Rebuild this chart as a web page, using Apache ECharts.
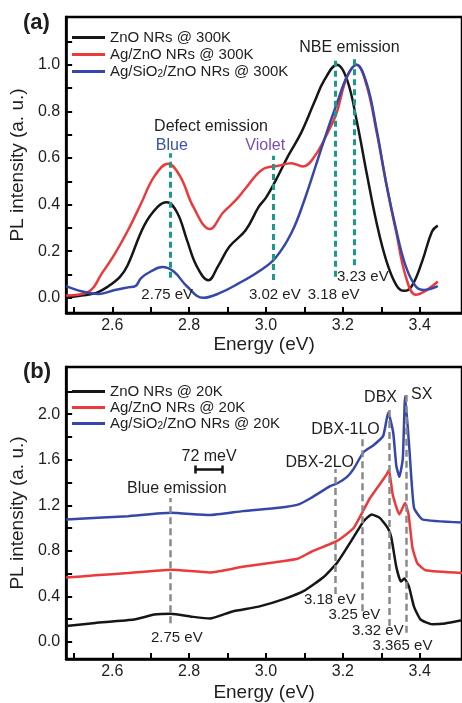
<!DOCTYPE html>
<html><head><meta charset="utf-8">
<script src="https://cdn.jsdelivr.net/npm/echarts@6/dist/echarts.min.js"></script>
<style>html,body{margin:0;padding:0;background:#fff}#c{width:462px;height:703px}</style>
</head><body><div id="c"></div>
<script>
// ---------- Panel (a): 300 K ----------
const topNames = ['ZnO NRs @ 300K', 'Ag/ZnO NRs @ 300K', 'Ag/SiO2/ZnO NRs @ 300K'];
const topBlackE = [2.48,2.52,2.556,2.59,2.62,2.64,2.683,2.718,2.742,2.769,2.794,2.82,2.85,2.875,2.905,2.947,2.981,3.0,3.024,3.058,3.092,3.126,3.152,3.185,3.211,3.236,3.262,3.288,3.313,3.339,3.36,3.381,3.407,3.432,3.447];
const topBlackI = [0.0,0.01,0.02,0.05,0.09,0.14,0.31,0.39,0.41,0.365,0.25,0.135,0.075,0.135,0.22,0.29,0.39,0.43,0.5,0.61,0.71,0.84,0.935,1.0,0.935,0.76,0.535,0.32,0.16,0.055,0.03,0.055,0.16,0.285,0.31];
const topRedE = [2.48,2.539,2.573,2.607,2.641,2.675,2.709,2.745,2.777,2.811,2.854,2.888,2.922,2.947,2.99,3.032,3.066,3.096,3.126,3.16,3.183,3.211,3.236,3.262,3.288,3.313,3.339,3.364,3.39,3.419,3.447];
const topRedI = [0.01,0.027,0.105,0.19,0.29,0.405,0.52,0.575,0.52,0.39,0.295,0.365,0.42,0.47,0.55,0.567,0.578,0.564,0.606,0.707,0.79,0.95,1.0,0.91,0.71,0.49,0.28,0.09,0.013,0.034,0.07];
const topBlueE = [2.48,2.522,2.565,2.607,2.641,2.66,2.675,2.7,2.73,2.76,2.794,2.837,2.879,2.93,2.981,3.024,3.066,3.1,3.134,3.16,3.185,3.211,3.235,3.262,3.288,3.313,3.339,3.364,3.39,3.411,3.447];
const topBlueI = [0.05,0.027,0.017,0.034,0.045,0.05,0.085,0.113,0.132,0.113,0.05,0.0,0.02,0.063,0.113,0.17,0.278,0.42,0.59,0.72,0.836,0.95,1.0,0.92,0.72,0.49,0.29,0.134,0.049,0.034,0.05];
const topMarkE = [2.75, 3.02, 3.18, 3.23];
const topMarkLow = [0.086, 0.077, 0.09, 0.14];
const topMarkHigh = [0.62, 0.61, 1.034, 1.034];
const topNoteE = [3.217, 2.857, 2.755, 2.998, 2.743, 3.023, 3.176, 3.252];
const topNoteI = [1.074, 0.734, 0.652, 0.652, 0.013, 0.013, 0.013, 0.09];
const topNoteText = ['NBE emission', 'Defect emission', 'Blue', 'Violet', '2.75 eV', '3.02 eV', '3.18 eV', '3.23 eV'];
const topYTicks = [0,0.1,0.2,0.3,0.4,0.5,0.6,0.7,0.8,0.9,1.0,1.1];
const topYLabels = [0,0.2,0.4,0.6,0.8,1.0];

// ---------- Panel (b): 20 K ----------
const botNames = ['ZnO NRs @ 20K', 'Ag/ZnO NRs @ 20K', 'Ag/SiO2/ZnO NRs @ 20K'];
const botBlackE = [2.48,2.556,2.657,2.709,2.752,2.811,2.854,2.913,2.981,3.05,3.1,3.15,3.186,3.228,3.254,3.275,3.296,3.317,3.326,3.339,3.351,3.36,3.372,3.385,3.402,3.432,3.466,3.51];
const botBlackI = [0.14,0.167,0.197,0.24,0.248,0.22,0.205,0.268,0.31,0.38,0.45,0.57,0.70,0.92,1.06,1.12,1.09,1.0,0.92,0.66,0.53,0.557,0.485,0.31,0.197,0.156,0.162,0.19];
const botRedE = [2.48,2.556,2.641,2.752,2.854,2.939,3.024,3.082,3.117,3.186,3.228,3.27,3.313,3.32,3.33,3.347,3.362,3.371,3.381,3.394,3.415,3.51];
const botRedI = [0.565,0.585,0.606,0.635,0.61,0.66,0.70,0.73,0.79,0.89,1.0,1.26,1.466,1.51,1.29,1.12,1.22,1.12,0.83,0.69,0.63,0.606];
const botBlueE = [2.48,2.641,2.752,2.854,2.939,3.033,3.083,3.117,3.168,3.186,3.211,3.228,3.254,3.279,3.305,3.318,3.331,3.339,3.347,3.356,3.362,3.373,3.385,3.407,3.51];
const botBlueI = [1.076,1.105,1.134,1.114,1.149,1.178,1.206,1.264,1.37,1.394,1.45,1.52,1.668,1.726,1.81,2.015,1.84,1.55,1.45,1.61,2.16,1.70,1.18,1.076,1.048];
const botMarkE = [2.75, 3.18, 3.25, 3.32, 3.365];
const botMarkLow = [0.165, 0.42, 0.27, 0.14, 0.08];
const botMarkHigh = [1.264, 1.52, 1.82, 2.07, 2.17];
const scaleBarE = [2.815, 2.887];
const scaleBarI = 1.515;
const scaleCap = 0.035;
const botNoteE = [3.298, 3.405, 3.207, 3.14, 2.852, 2.768, 2.768, 3.166, 3.23, 3.291, 3.355];
const botNoteI = [2.149, 2.175, 1.863, 1.577, 1.629, 1.343, 0.035, 0.373, 0.234, 0.095, -0.035];
const botNoteText = ['DBX', 'SX', 'DBX-1LO', 'DBX-2LO', '72 meV', 'Blue emission', '2.75 eV', '3.18 eV', '3.25 eV', '3.32 eV', '3.365 eV'];
const botYTicks = [0,0.2,0.4,0.6,0.8,1.0,1.2,1.4,1.6,1.8,2.0,2.2];
const botYLabels = [0,0.4,0.8,1.2,1.6,2.0];

const xTicks = [2.5,2.6,2.7,2.8,2.9,3.0,3.1,3.2,3.3,3.4];
const xLabels = [2.6,2.8,3.0,3.2,3.4];

const FONT = '"Liberation Sans", Arial, sans-serif';
const TXT = '#1e1e1e';
const colors = ['#161616', '#ec3a3c', '#3547a8'];
const TEAL = '#1a9a8c';
const GRAY = '#8a8a8a';

const zip = (a, b) => a.map((x, i) => [x, b[i]]);

function xAxisFor(i, gap) {
  return {
    gridIndex: i, type: 'value', min: 2.48, max: 3.51,
    name: 'Energy (eV)', nameLocation: 'middle', nameGap: gap,
    nameTextStyle: { fontSize: 19, color: TXT, fontFamily: FONT },
    axisLine: { show: true, onZero: false, lineStyle: { color: '#000', width: 2.5 } },
    axisTick: { show: true, inside: true, length: 6, customValues: xTicks, lineStyle: { color: '#000', width: 2 } },
    axisLabel: { customValues: xLabels, formatter: v => Number(v).toFixed(1), fontSize: 16, color: TXT, fontFamily: FONT, margin: 5 },
    splitLine: { show: false }
  };
}
function yAxisFor(i, min, max, ticks, labels) {
  return {
    gridIndex: i, type: 'value', min: min, max: max,
    name: 'PL intensity (a. u.)', nameLocation: 'middle', nameGap: 35,
    nameTextStyle: { fontSize: 19, color: TXT, fontFamily: FONT },
    axisLine: { show: true, onZero: false, lineStyle: { color: '#000', width: 2.5 } },
    axisTick: { show: true, inside: true, length: 6, customValues: ticks, lineStyle: { color: '#000', width: 2 } },
    axisLabel: { customValues: labels, formatter: v => Number(v).toFixed(1), fontSize: 16, color: TXT, fontFamily: FONT, margin: 6 },
    splitLine: { show: false }
  };
}
function curve(name, E, I, idx, color, smooth) {
  return {
    name: name, type: 'line', xAxisIndex: idx, yAxisIndex: idx,
    data: zip(E, I), showSymbol: false, symbol: 'none', smooth: smooth,
    lineStyle: { color: color, width: 2.5 }, itemStyle: { color: color }, z: 3, silent: true
  };
}
function markers(E, lo, hi, idx, color, width, dash) {
  return {
    type: 'lines', coordinateSystem: 'cartesian2d', xAxisIndex: idx, yAxisIndex: idx,
    data: E.map((e, i) => ({ coords: [[e, lo[i]], [e, hi[i]]] })),
    lineStyle: { color: color, width: width, type: dash, opacity: 1, cap: 'butt' },
    z: 4, silent: true
  };
}
function notes(E, I, T, idx, styleFn) {
  return {
    type: 'scatter', xAxisIndex: idx, yAxisIndex: idx, symbolSize: 1,
    itemStyle: { color: 'transparent', opacity: 1 }, silent: true, z: 6,
    data: E.map((e, i) => {
      const s = styleFn(T[i]);
      return { value: [e, I[i]], label: { show: true, position: 'inside', formatter: T[i], fontSize: s.size, color: s.color, opacity: 1, fontFamily: FONT } };
    })
  };
}
const legendRich = { sub: { fontSize: 10, verticalAlign: 'bottom', lineHeight: 4, color: TXT, fontFamily: FONT } };
function legendFor(names, top, gap) {
  return {
    data: names, orient: 'vertical', left: 72, top: top, icon: 'rect', itemWidth: 33, itemHeight: 3,
    itemGap: gap, selectedMode: false, padding: 0,
    textStyle: { fontSize: 15, lineHeight: 15, color: TXT, fontFamily: FONT, rich: legendRich },
    formatter: n => n.replace('SiO2', 'SiO{sub|2}')
  };
}

const topStyle = t => t === 'Blue' ? { size: 16, color: '#3a50b2' } : t === 'Violet' ? { size: 16, color: '#7a4cb8' } : t.endsWith('eV') ? { size: 15, color: TXT } : { size: 16, color: TXT };
const botStyle = t => t.endsWith('eV') && t !== '72 meV' ? { size: 15, color: TXT } : { size: 16, color: TXT };

const chart = echarts.init(document.getElementById('c'), null, { renderer: 'canvas' });
chart.setOption({
  animation: false,
  backgroundColor: '#fff',
  title: [
    { text: '(a)', left: 18, top: 7, padding: 5, textStyle: { fontSize: 22, fontWeight: 'bold', color: TXT, fontFamily: FONT } },
    { text: '(b)', left: 18, top: 356, padding: 5, textStyle: { fontSize: 22, fontWeight: 'bold', color: TXT, fontFamily: FONT } }
  ],
  legend: [legendFor(topNames, 30, 2), legendFor(botNames, 384, 1)],
  grid: [
    { left: 64, top: 17, width: 404, height: 296, show: true, borderColor: '#000', borderWidth: 2.5, backgroundColor: 'transparent' },
    { left: 64, top: 367, width: 404, height: 296, show: true, borderColor: '#000', borderWidth: 2.5, backgroundColor: 'transparent' }
  ],
  xAxis: [xAxisFor(0, 21), xAxisFor(1, 24)],
  yAxis: [yAxisFor(0, -0.065, 1.205, topYTicks, topYLabels), yAxisFor(1, -0.15, 2.415, botYTicks, botYLabels)],
  series: [
    curve(topNames[0], topBlackE, topBlackI, 0, colors[0], 0.4),
    curve(topNames[1], topRedE, topRedI, 0, colors[1], 0.4),
    curve(topNames[2], topBlueE, topBlueI, 0, colors[2], 0.4),
    markers(topMarkE, topMarkLow, topMarkHigh, 0, TEAL, 3, [6, 4]),
    notes(topNoteE, topNoteI, topNoteText, 0, topStyle),
    curve(botNames[0], botBlackE, botBlackI, 1, colors[0], 0.15),
    curve(botNames[1], botRedE, botRedI, 1, colors[1], 0.15),
    curve(botNames[2], botBlueE, botBlueI, 1, colors[2], 0.15),
    markers(botMarkE, botMarkLow, botMarkHigh, 1, GRAY, 2.5, [7, 4]),
    {
      type: 'lines', coordinateSystem: 'cartesian2d', xAxisIndex: 1, yAxisIndex: 1, silent: true, z: 5,
      lineStyle: { color: '#111', width: 2.5, type: 'solid', opacity: 1 },
      data: [
        { coords: [[scaleBarE[0], scaleBarI], [scaleBarE[1], scaleBarI]] },
        { coords: [[scaleBarE[0], scaleBarI - scaleCap], [scaleBarE[0], scaleBarI + scaleCap]] },
        { coords: [[scaleBarE[1], scaleBarI - scaleCap], [scaleBarE[1], scaleBarI + scaleCap]] }
      ]
    },
    notes(botNoteE, botNoteI, botNoteText, 1, botStyle)
  ]
});
</script></body></html>
